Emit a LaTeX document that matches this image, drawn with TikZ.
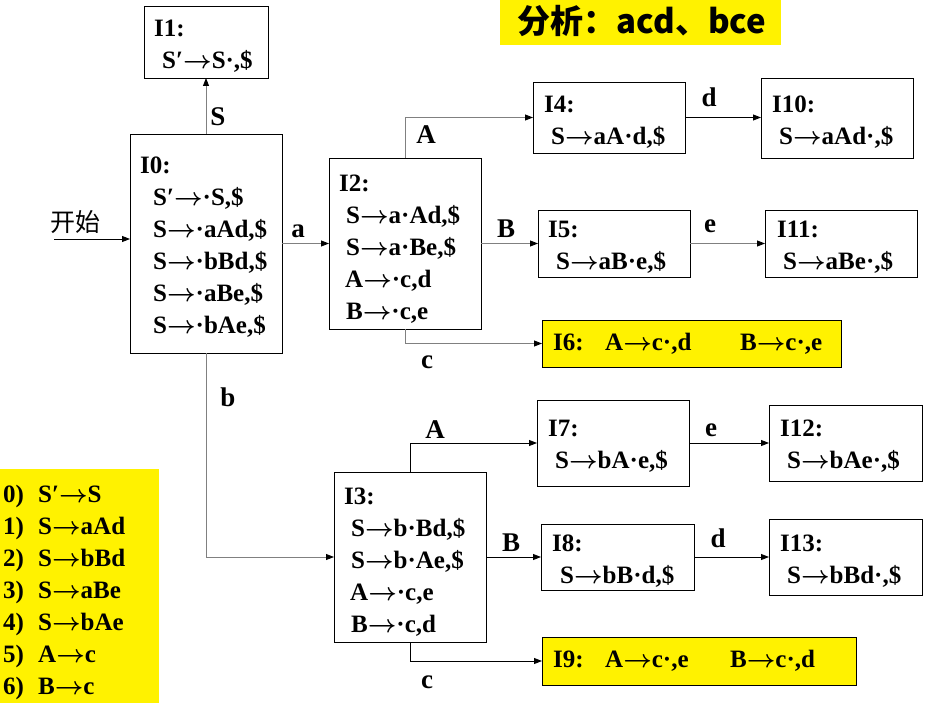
\documentclass[tikz,border=0pt]{standalone}
\usepackage{fontspec}
\setmainfont{Liberation Serif}[BoldFont={Liberation Serif Bold}]
\newfontfamily\cjk{Noto Sans CJK SC}
\newcommand\myarr{{\boldmath$\rightarrow$}}
\usetikzlibrary{arrows.meta}
\begin{document}
\begin{tikzpicture}[x=1pt,y=-1pt,
  box/.style={draw=black, line width=0.9pt, rectangle, inner sep=0pt, outer sep=0pt, anchor=north west},
  ybox/.style={box, fill=yellow},
  plain/.style={rectangle, inner sep=0pt, outer sep=0pt, anchor=north west, fill=yellow},
  txt/.style={anchor=north west, inner sep=0pt, align=left, font=\fontsize{25}{32}\selectfont\bfseries},
  ltxt/.style={anchor=west, inner sep=0pt, font=\fontsize{25}{32}\selectfont\bfseries},
  lbl/.style={inner sep=0pt, font=\fontsize{27}{30}\selectfont\bfseries},
  conn/.style={line width=0.9pt, draw=black, -{Triangle[length=8pt,width=6pt]}},
  gconn/.style={conn, draw=gray, -{Triangle[length=8pt,width=6pt,fill=black,color=black]}}]
\useasboundingbox (0,0) rectangle (933,703);

% yellow panels
\node[plain, minimum width=281pt, minimum height=45pt] (title) at (500,0) {};
\node[font=\cjk\bfseries\fontsize{33}{36}\selectfont, inner sep=0pt] (titletxt) at (642,21) {分析：acd、bce};
\node[plain, minimum width=159pt, minimum height=234pt] (legend) at (0,469) {};
\node[txt] (legendtxt) at (3,485) {\makebox[35pt][l]{0)}S′\myarr S\\
\makebox[35pt][l]{1)}S\myarr aAd\\
\makebox[35pt][l]{2)}S\myarr bBd\\
\makebox[35pt][l]{3)}S\myarr aBe\\
\makebox[35pt][l]{4)}S\myarr bAe\\
\makebox[35pt][l]{5)}A\myarr c\\
\makebox[35pt][l]{6)}B\myarr c};

% item-set boxes
\node[box, minimum width=124pt, minimum height=72pt] (I1) at (144,6) {};
\node[box, minimum width=152pt, minimum height=219pt] (I0) at (130,134) {};
\node[box, minimum width=152pt, minimum height=171pt] (I2) at (329,158) {};
\node[box, minimum width=152pt, minimum height=71pt] (I4) at (533,82) {};
\node[box, minimum width=152pt, minimum height=80pt] (I10) at (761,78) {};
\node[box, minimum width=152pt, minimum height=67pt] (I5) at (538,210) {};
\node[box, minimum width=152pt, minimum height=67pt] (I11) at (765,210) {};
\node[ybox, minimum width=299pt, minimum height=47pt] (I6) at (542,320) {};
\node[box, minimum width=152pt, minimum height=170pt] (I3) at (334,472) {};
\node[box, minimum width=152pt, minimum height=86pt] (I7) at (537,400) {};
\node[box, minimum width=153pt, minimum height=76pt] (I12) at (769,405) {};
\node[box, minimum width=153pt, minimum height=66pt] (I8) at (541,524) {};
\node[box, minimum width=153pt, minimum height=76pt] (I13) at (769,519) {};
\node[ybox, minimum width=314pt, minimum height=48pt] (I9) at (542,637) {};

% texts
\node[txt] (t1) at (154,20) {I1:\\\hspace*{8pt}S′\myarr S·,\$};
\node[txt] (t0) at (140,157) {I0:\\\hspace*{13pt}S′\myarr·S,\$\\\hspace*{13pt}S\myarr·aAd,\$\\\hspace*{13pt}S\myarr·bBd,\$\\\hspace*{13pt}S\myarr·aBe,\$\\\hspace*{13pt}S\myarr·bAe,\$};
\node[txt] (t2) at (339,175) {I2:\\\hspace*{7pt}S\myarr a·Ad,\$\\\hspace*{7pt}S\myarr a·Be,\$\\\hspace*{6pt}A\myarr·c,d\\\hspace*{7pt}B\myarr·c,e};
\node[txt] (t3) at (344,488) {I3:\\\hspace*{7pt}S\myarr b·Bd,\$\\\hspace*{7pt}S\myarr b·Ae,\$\\\hspace*{6pt}A\myarr·c,e\\\hspace*{7pt}B\myarr·c,d};
\node[txt] (t4) at (544,96) {I4:\\\hspace*{7pt}S\myarr aA·d,\$};
\node[txt] (t10) at (772,96) {I10:\\\hspace*{7pt}S\myarr aAd·,\$};
\node[txt] (t5) at (548,221) {I5:\\\hspace*{8pt}S\myarr aB·e,\$};
\node[txt] (t11) at (777,221) {I11:\\\hspace*{6pt}S\myarr aBe·,\$};
\node[txt] (t7) at (548,420) {I7:\\\hspace*{7pt}S\myarr bA·e,\$};
\node[txt] (t12) at (780,420) {I12:\\\hspace*{7pt}S\myarr bAe·,\$};
\node[txt] (t8) at (552,535) {I8:\\\hspace*{8pt}S\myarr bB·d,\$};
\node[txt] (t13) at (780,535) {I13:\\\hspace*{7pt}S\myarr bBd·,\$};
\node[ltxt] (t6) at (553,344) {\makebox[52pt][l]{I6:}\makebox[135pt][l]{A\myarr c·,d}B\myarr c·,e};
\node[ltxt] (t9) at (553,661) {\makebox[52pt][l]{I9:}\makebox[125pt][l]{A\myarr c·,e}B\myarr c·,d};

% start arrow
\node[font=\cjk\fontsize{25}{28}\selectfont, inner sep=0pt] (start) at (75,222) {开始};
\coordinate (st) at (54,239);
\draw[conn] (st) -- (st -| I0.west);

% connectors
\draw[gconn] (I0.north) -- (I1.south);
\draw[gconn] (I0.east) -- (I2.west);
\draw[gconn] (I2.north) |- (I4.west);
\draw[conn] (I4.east) -- (I4.east -| I10.west);
\draw[gconn] (I2.east) -- (I5.west);
\draw[gconn] (I5.east) -- (I11.west);
\draw[gconn] (I2.south) |- (I6.west);
\draw[gconn] (I0.south) |- (I3.west);
\draw[conn] (I3.north) |- (I7.west);
\draw[conn] (I7.east) -- (I12.west);
\draw[conn] (I3.east) -- (I8.west);
\draw[conn] (I8.east) -- (I13.west);
\draw[conn] (I3.south) |- (I9.west);

% edge labels
\node[lbl] (lS) at (218,117) {S};
\node[lbl] (la) at (298,231) {a};
\node[lbl] (lA1) at (426,135) {A};
\node[lbl] (ld1) at (709,97) {d};
\node[lbl] (lB1) at (506,229) {B};
\node[lbl] (le1) at (710,226) {e};
\node[lbl] (lc1) at (427,362) {c};
\node[lbl] (lb) at (228,397) {b};
\node[lbl] (lA2) at (435,430) {A};
\node[lbl] (le2) at (711,430) {e};
\node[lbl] (lB2) at (511,543) {B};
\node[lbl] (ld2) at (718,538) {d};
\node[lbl] (lc2) at (427,682) {c};
\end{tikzpicture}
\end{document}
